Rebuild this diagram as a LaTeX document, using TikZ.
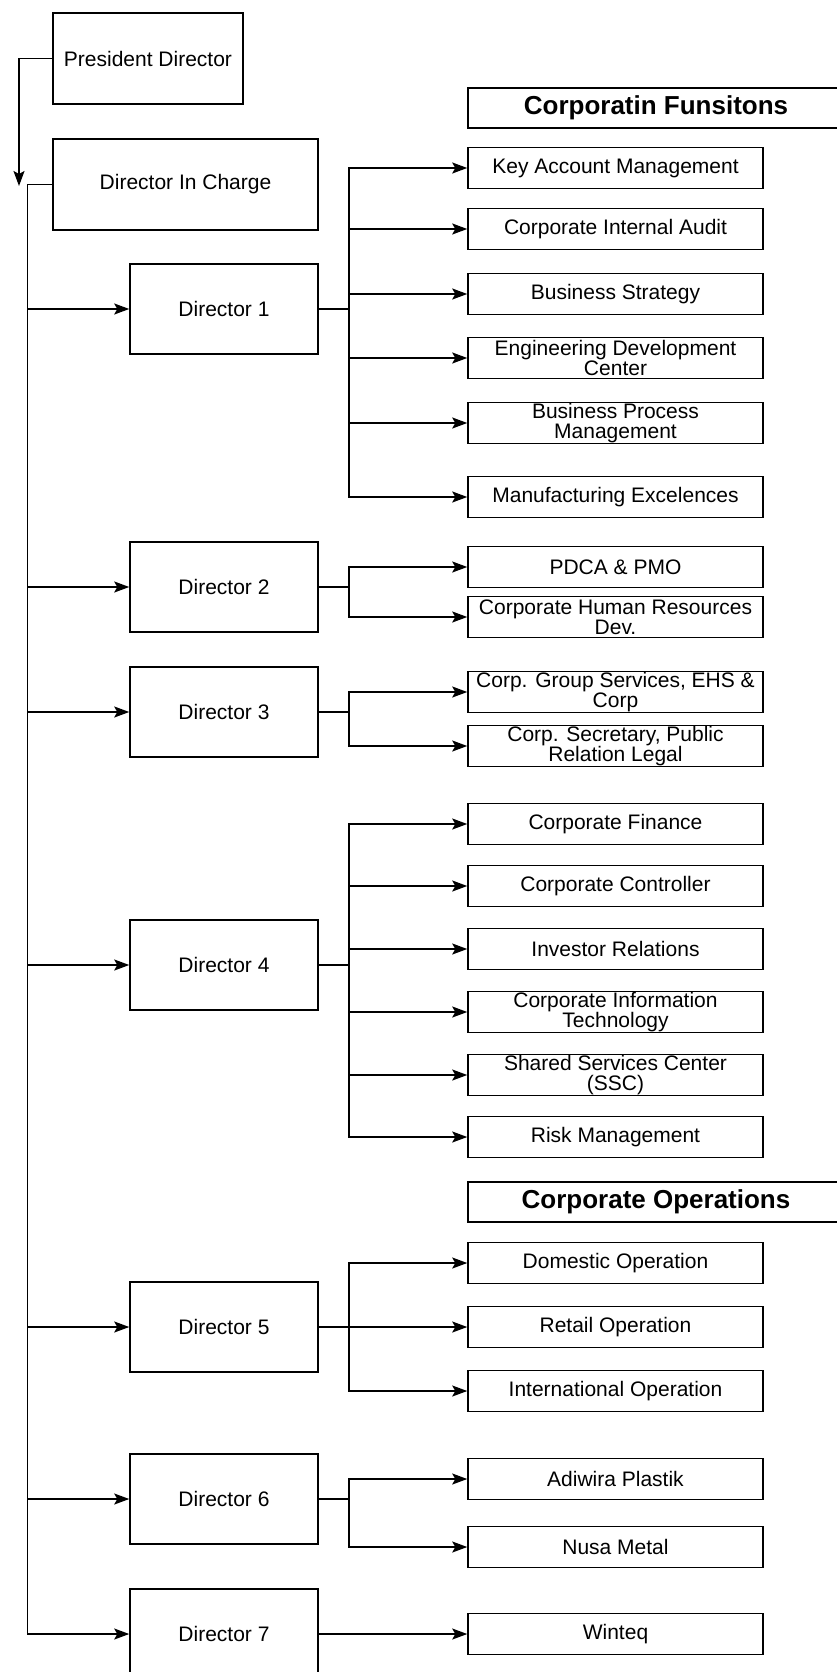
\documentclass[tikz,border=0pt]{standalone}
\usepackage{fontspec}
\setmainfont{Liberation Sans}
\usepackage{tikz}
\usetikzlibrary{arrows.meta}
\tikzset{
  orgbox/.style = {draw=black, line width=1.5pt, align=center, inner sep=0pt,
    text centered, font=\fontsize{21}{20}\selectfont},
  dir_n/.style = {orgbox, minimum width=188pt, minimum height=90pt},
  unit_n/.style = {orgbox, minimum width=295pt, minimum height=41pt},
  head_n/.style = {orgbox, minimum width=376pt, minimum height=40pt,
    font=\fontsize{26}{26}\selectfont\bfseries}
}

\begin{document}
\begin{tikzpicture}[->,>={Stealth[length=15pt,width=11pt,inset=3pt]},line width=1.5pt,x=1pt,y=-1pt]
\useasboundingbox (0,0) rectangle (836,1672);

\node[dir_n,minimum width=190pt,minimum height=91pt](pd) at (148,58.5){President Director};
\node[dir_n,minimum width=265pt,minimum height=91pt](dic) at (185.5,184.5){Director In Charge};
\coordinate (pdend) at (19,186);
\draw (pd.west) -| (pdend);

\node[dir_n](d1) at (224,309){Director 1};
\node[dir_n](d2) at (224,587){Director 2};
\node[dir_n](d3) at (224,712){Director 3};
\node[dir_n](d4) at (224,965){Director 4};
\node[dir_n](d5) at (224,1327){Director 5};
\node[dir_n](d6) at (224,1499){Director 6};
\node[dir_n](d7) at (224,1634){Director 7};

\node[head_n](fun) at (656,108){Corporatin Funsitons};
\node[unit_n](kam) at (615.5,168){Key Account Management};
\node[unit_n](cia) at (615.5,229){Corporate Internal Audit};
\node[unit_n](bst) at (615.5,294){Business Strategy};
\node[unit_n](edc) at (615.5,358){Engineering Development\\Center};
\node[unit_n](bpm) at (615.5,423){Business Process\\Management};
\node[unit_n](mex) at (615.5,497){Manufacturing Excelences};
\node[unit_n](pdca) at (615.5,567){PDCA \& PMO};
\node[unit_n](chr) at (615.5,617){Corporate Human Resources\\Dev.};
\node[unit_n](cgs) at (615.5,692){Corp. Group Services, EHS \&\\Corp};
\node[unit_n](csec) at (615.5,746){Corp. Secretary, Public\\Relation Legal};
\node[unit_n](cfin) at (615.5,824){Corporate Finance};
\node[unit_n](cctl) at (615.5,886){Corporate Controller};
\node[unit_n](inv) at (615.5,949){Investor Relations};
\node[unit_n](cit) at (615.5,1012){Corporate Information\\Technology};
\node[unit_n](ssc) at (615.5,1075){Shared Services Center\\(SSC)};
\node[unit_n](risk) at (615.5,1137){Risk Management};
\node[head_n](ops) at (656,1202){Corporate Operations};
\node[unit_n](dom) at (615.5,1263){Domestic Operation};
\node[unit_n](ret) at (615.5,1327){Retail Operation};
\node[unit_n](intl) at (615.5,1391){International Operation};
\node[unit_n](adi) at (615.5,1479){Adiwira Plastik};
\node[unit_n](nusa) at (615.5,1547){Nusa Metal};
\node[unit_n](win) at (615.5,1634){Winteq};

\draw (dic.west) -- ++(-25,0) |- (d1.west);
\draw (dic.west) -- ++(-25,0) |- (d2.west);
\draw (dic.west) -- ++(-25,0) |- (d3.west);
\draw (dic.west) -- ++(-25,0) |- (d4.west);
\draw (dic.west) -- ++(-25,0) |- (d5.west);
\draw (dic.west) -- ++(-25,0) |- (d6.west);
\draw (dic.west) -- ++(-25,0) |- (d7.west);

\draw (d1.east) -- ++(30,0) |- (kam.west);
\draw (d1.east) -- ++(30,0) |- (cia.west);
\draw (d1.east) -- ++(30,0) |- (bst.west);
\draw (d1.east) -- ++(30,0) |- (edc.west);
\draw (d1.east) -- ++(30,0) |- (bpm.west);
\draw (d1.east) -- ++(30,0) |- (mex.west);

\draw (d2.east) -- ++(30,0) |- (pdca.west);
\draw (d2.east) -- ++(30,0) |- (chr.west);

\draw (d3.east) -- ++(30,0) |- (cgs.west);
\draw (d3.east) -- ++(30,0) |- (csec.west);

\draw (d4.east) -- ++(30,0) |- (cfin.west);
\draw (d4.east) -- ++(30,0) |- (cctl.west);
\draw (d4.east) -- ++(30,0) |- (inv.west);
\draw (d4.east) -- ++(30,0) |- (cit.west);
\draw (d4.east) -- ++(30,0) |- (ssc.west);
\draw (d4.east) -- ++(30,0) |- (risk.west);

\draw (d5.east) -- ++(30,0) |- (dom.west);
\draw (d5.east) -- ++(30,0) |- (ret.west);
\draw (d5.east) -- ++(30,0) |- (intl.west);

\draw (d6.east) -- ++(30,0) |- (adi.west);
\draw (d6.east) -- ++(30,0) |- (nusa.west);

\draw (d7.east) -- (win.west);
\end{tikzpicture}
\end{document}
